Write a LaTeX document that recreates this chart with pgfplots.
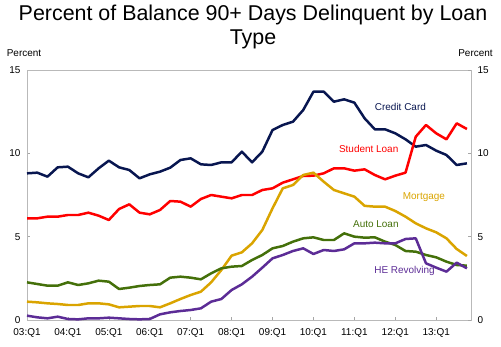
\documentclass[border=0pt]{standalone}
\usepackage{fontspec}
\setmainfont{Liberation Sans}
\usepackage{pgfplots}
\pgfplotsset{compat=1.18}
\usepackage{pgfplotstable}

\definecolor{ccol}{RGB}{8,22,80}
\definecolor{scol}{RGB}{255,0,0}
\definecolor{mcol}{RGB}{218,164,0}
\definecolor{acol}{RGB}{68,112,10}
\definecolor{hcol}{RGB}{92,44,150}

\pgfplotstableread{
i cc sl mo au he
0 8.80 6.10 1.10 2.26 0.26
1 8.84 6.10 1.06 2.16 0.16
2 8.60 6.20 1.00 2.06 0.10
3 9.16 6.20 0.96 2.06 0.20
4 9.20 6.30 0.90 2.26 0.06
5 8.80 6.30 0.90 2.10 0.04
6 8.56 6.44 1.00 2.20 0.10
7 9.10 6.26 1.00 2.36 0.10
8 9.56 6.00 0.94 2.30 0.14
9 9.16 6.66 0.76 1.86 0.10
10 9.00 6.94 0.80 1.94 0.06
11 8.50 6.44 0.84 2.04 0.04
12 8.74 6.34 0.84 2.10 0.06
13 8.90 6.60 0.76 2.14 0.34
14 9.14 7.14 1.00 2.54 0.46
15 9.60 7.10 1.26 2.60 0.54
16 9.70 6.80 1.50 2.54 0.60
17 9.34 7.26 1.70 2.44 0.70
18 9.30 7.50 2.26 2.80 1.10
19 9.46 7.40 3.00 3.10 1.26
20 9.46 7.30 3.86 3.20 1.80
21 10.10 7.50 4.06 3.24 2.14
22 9.46 7.50 4.60 3.60 2.60
23 10.10 7.80 5.40 3.90 3.14
24 11.40 7.90 6.70 4.30 3.70
25 11.70 8.24 7.90 4.44 3.90
26 11.90 8.44 8.10 4.70 4.14
27 12.60 8.64 8.70 4.90 4.30
28 13.70 8.66 8.84 4.96 3.96
29 13.70 8.80 8.30 4.80 4.20
30 13.10 9.10 7.80 4.80 4.14
31 13.24 9.10 7.60 5.20 4.24
32 13.04 8.96 7.40 5.00 4.60
33 12.10 9.04 6.85 4.94 4.60
34 11.44 8.70 6.80 4.96 4.64
35 11.44 8.44 6.80 4.70 4.60
36 11.20 8.66 6.54 4.50 4.60
37 10.84 8.84 6.20 4.14 4.86
38 10.40 11.00 5.80 4.10 4.90
39 10.50 11.70 5.50 3.90 3.40
40 10.16 11.20 5.26 3.76 3.14
41 9.90 10.84 4.90 3.50 2.90
42 9.30 11.80 4.26 3.30 3.44
43 9.40 11.46 3.84 3.26 3.10
}\data

\begin{document}
\begin{tikzpicture}
\useasboundingbox (-27bp,-27bp) rectangle (474bp,320bp);
\pgfplotsset{
  common/.style={
    at={(0,0)}, anchor=south west, scale only axis,
    width=444bp, height=250bp,
    xmin=0, xmax=43.4, ymin=0, ymax=15,
    ytick={0,5,10,15},
    /pgf/number format/assume math mode=true,
    tick label style={font=\fontsize{10}{12}\selectfont},
    axis line style={gray!55, line width=0.8pt},
    major tick style={gray!70, line width=0.6pt},
  }
}
\begin{axis}[common,
  xtick={0,4,...,40},
  xticklabels={03:Q1,04:Q1,05:Q1,06:Q1,07:Q1,08:Q1,09:Q1,10:Q1,11:Q1,12:Q1,13:Q1},
  xtick pos=bottom, ytick pos=left,
  x tick label style={yshift=-5pt},
  y tick label style={xshift=-3pt},
  tick align=inside,
  major tick length=3pt,
  clip=false,
]
\addplot[ccol, line width=2.5pt, line join=round] table[x=i,y=cc]{\data};
\addplot[scol, line width=2.5pt, line join=round] table[x=i,y=sl]{\data};
\addplot[mcol, line width=2.5pt, line join=round] table[x=i,y=mo]{\data};
\addplot[acol, line width=2.5pt, line join=round] table[x=i,y=au]{\data};
\addplot[hcol, line width=2.5pt, line join=round] table[x=i,y=he]{\data};
\node[text=ccol, font=\fontsize{10}{12}\selectfont] at (axis cs:36.5,12.76) {Credit Card};
\node[text=scol, font=\fontsize{10}{12}\selectfont] at (axis cs:33.4,10.26) {Student Loan};
\node[text=mcol, font=\fontsize{10}{12}\selectfont] at (axis cs:38.8,7.36) {Mortgage};
\node[text=acol, font=\fontsize{10}{12}\selectfont] at (axis cs:34.1,5.76) {Auto Loan};
\node[text=hcol, font=\fontsize{10}{12}\selectfont] at (axis cs:36.9,2.94) {HE Revolving};
\end{axis}
\begin{axis}[common,
  axis x line=none, axis y line*=right,
  y tick label style={xshift=3pt},
  tick align=inside, major tick length=3pt,
]
\addplot[draw=none] coordinates {(0,0)};
\end{axis}
\node[font=\fontsize{10}{12}\selectfont] at (-3bp,266.5bp) {Percent};
\node[font=\fontsize{10}{12}\selectfont] at (448.5bp,266.5bp) {Percent};
\node[font=\fontsize{21.5}{26}\selectfont, anchor=base] at (226bp,299bp) {Percent of Balance 90+ Days Delinquent by Loan};
\node[font=\fontsize{21.5}{26}\selectfont, anchor=base] at (226bp,275bp) {Type};
\end{tikzpicture}
\end{document}
